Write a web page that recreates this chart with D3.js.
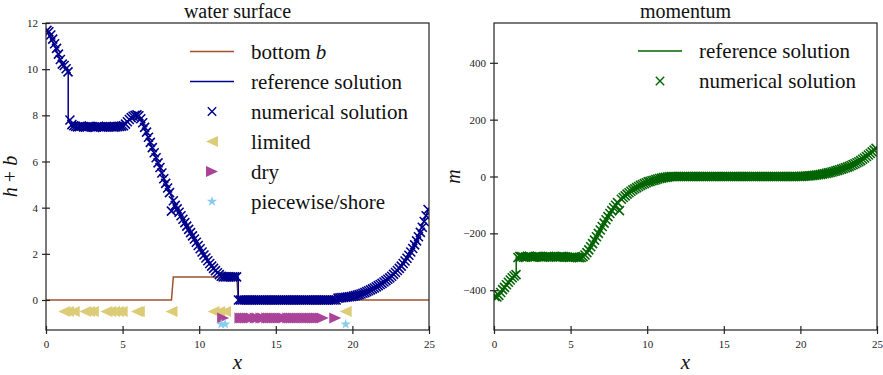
<!DOCTYPE html>
<html>
<head>
<meta charset="utf-8">
<script src="https://cdn.jsdelivr.net/npm/d3@7"></script>
<style>
  body { margin: 0; background: #fff; }
  svg { display: block; }
</style>
</head>
<body>
<svg id="fig" width="883" height="375"></svg>
<script>
// finite volume grid: 200 cells on [0, 25], values given at the cell centres
const dx = 0.125;

// numerical solution, water surface h + b
const surface = [
  11.68, 11.62, 11.48, 11.30, 11.10, 10.90, 10.65, 10.42, 10.22, 10.16,
  10.02, 9.88, 7.80, 7.60, 7.55, 7.52, 7.50, 7.51, 7.53, 7.50,
  7.49, 7.50, 7.52, 7.51, 7.50, 7.48, 7.50, 7.51, 7.50, 7.49,
  7.50, 7.52, 7.50, 7.51, 7.50, 7.49, 7.50, 7.51, 7.52, 7.53,
  7.55, 7.62, 7.72, 7.82, 7.90, 7.96, 8.00, 8.02, 7.98, 7.85,
  7.68, 7.48, 7.27, 7.05, 6.83, 6.60, 6.38, 6.16, 5.94, 5.74,
  5.50, 5.25, 5.05, 4.85, 4.65, 3.85, 4.30, 4.10, 3.95, 3.80,
  3.65, 3.50, 3.35, 3.20, 3.06, 2.92, 2.78, 2.64, 2.50, 2.36,
  2.22, 2.08, 1.95, 1.82, 1.70, 1.58, 1.47, 1.37, 1.27, 1.18,
  1.10, 1.03, 1.00, 1.00, 1.00, 1.00, 1.00, 1.00, 1.00, 1.00,
  0, 0, 0, 0, 0, 0, 0, 0, 0, 0,
  0, 0, 0, 0, 0, 0, 0, 0, 0, 0,
  0, 0, 0, 0, 0, 0, 0, 0, 0, 0,
  0, 0, 0, 0, 0, 0, 0, 0, 0, 0,
  0, 0, 0, 0, 0, 0, 0, 0, 0, 0,
  0, 0, 0.08, 0.09, 0.10, 0.11, 0.12, 0.13, 0.14, 0.15,
  0.17, 0.19, 0.21, 0.23, 0.26, 0.29, 0.32, 0.36, 0.40, 0.44,
  0.48, 0.52, 0.57, 0.62, 0.67, 0.72, 0.78, 0.84, 0.90, 0.96,
  1.03, 1.11, 1.19, 1.28, 1.37, 1.47, 1.58, 1.69, 1.81, 1.94,
  2.08, 2.23, 2.39, 2.56, 2.74, 2.93, 3.15, 3.40, 3.65, 3.92
];

// numerical solution, momentum m
const momentum = [
  -422, -424, -418, -408, -398, -390, -381, -372, -364, -356,
  -350, -345, -285, -281, -282, -284, -283, -282, -281, -283,
  -284, -282, -281, -282, -283, -284, -283, -282, -281, -282,
  -283, -282, -284, -283, -282, -281, -282, -283, -284, -285,
  -284, -283, -284, -285, -286, -285, -282, -276, -268, -258,
  -247, -236, -224, -212, -200, -188, -176, -164, -152, -141,
  -130, -120, -110, -101, -92, -120, -80, -74, -68, -62,
  -57, -52, -47, -43, -39, -35, -31, -28, -25, -22,
  -19, -17, -15, -13, -11, -9, -7, -5.5, -4, -3,
  -2, -1, 0, 0, 0, 0, 0, 0, 0, 0,
  0, 0, 0, 0, 0, 0, 0, 0, 0, 0,
  0, 0, 0, 0, 0, 0, 0, 0, 0, 0,
  0, 0, 0, 0, 0, 0, 0, 0, 0, 0,
  0, 0, 0, 0, 0, 0, 0, 0, 0, 0,
  0, 0, 0, 0, 0, 0, 0, 0, 0, 0,
  0, 0, 0, 0, 0, 0, 0, 0, 0, 0,
  0.5, 0.8, 1.2, 1.6, 2.1, 2.7, 3.4, 4.2, 5.1, 6.1,
  7.2, 8.4, 9.7, 11.1, 12.6, 14.2, 15.9, 17.7, 19.6, 21.6,
  23.7, 25.9, 28.2, 30.6, 33.1, 35.8, 38.6, 41.6, 44.8, 48.2,
  51.8, 56.0, 60.5, 65.2, 70.2, 75.5, 81.0, 86.8, 92.8, 99.0
];

// bottom topography b (bump)
const bottomX = [0, 8.19, 8.31, 12.44, 12.56, 25];
const bottomB = [0, 0, 1, 1, 0, 0];

// reference solution
const refSurfaceX = [0, 0.5, 1.0, 1.45, 1.45, 1.7, 5.0, 5.5, 5.9, 6.2, 7.0, 8.0, 9.0, 10.0, 11.0, 11.5, 12.55, 12.55, 19.0, 20.0, 21.0, 22.0, 23.0, 24.0, 25.0];
const refSurface = [11.7, 11.1, 10.3, 9.9, 7.8, 7.5, 7.52, 7.85, 8.02, 7.85, 6.45, 4.75, 3.4, 2.25, 1.3, 1.0, 1.0, 0, 0, 0.16, 0.38, 0.75, 1.35, 2.3, 4.0];
const refMomentumX = [0, 0.3, 1.45, 1.45, 5.7, 6.0, 7.0, 8.0, 9.0, 10.0, 11.0, 11.6, 20.0, 21.0, 22.0, 23.0, 24.0, 25.0];
const refMomentum = [-423, -415, -345, -284, -285, -272, -176, -92, -41, -15, -2, 0, 0, 6, 17, 37, 66, 103];

// flagged cells (x of the cell centre) and the level they are drawn at
const limitedX = [1.19, 1.44, 1.81, 2.56, 2.81, 3.06, 3.94, 4.19, 4.44, 4.69, 4.94, 5.94, 6.06, 8.19, 10.94, 11.31, 11.69, 19.56];
const dryX = [11.56, 12.69, 12.81, 12.94, 13.06, 13.19, 13.31, 13.44, 13.69, 13.81, 14.06, 14.19, 14.44, 14.56, 14.69,
  14.81, 14.94, 15.06, 15.19, 15.31, 15.44, 15.56, 15.81, 15.94, 16.06, 16.19, 16.31, 16.44, 16.56, 16.69,
  16.81, 16.94, 17.06, 17.19, 17.31, 17.44, 17.56, 17.69, 17.81, 17.94, 18.06, 18.88];
const shoreX = [11.44, 11.69, 19.56];
const limitedLevel = -0.5;
const dryLevel = -0.78;
const shoreLevel = -1.05;

// axes ranges and ticks
const xDomain = [0, 25];
const surfaceDomain = [-1.3, 12];
const momentumDomain = [-540, 540];
const xTicks = [0, 5, 10, 15, 20, 25];
const surfaceTicks = [0, 2, 4, 6, 8, 10, 12];
const momentumTicks = [-400, -200, 0, 200, 400];

// colours
const blue = "#00008b";
const green = "#006400";
const brown = "#a0522d";
const sand = "#ddcc77";
const purple = "#aa4499";
const cyan = "#88ccee";
const ink = "#222";
const serif = "'Liberation Serif', 'DejaVu Serif', 'Times New Roman', serif";

const fig = d3.select("#fig").attr("font-family", serif);
const plotTop = 23, plotBottom = 330;

// cell centre of cell i
const cellX = i => (i + 0.5) * dx;

// marker shapes
const cross = r => `M${-r},${-r}L${r},${r}M${-r},${r}L${r},${-r}`;
const triLeft = "M-6,0L6,-5.5L6,5.5Z";
const triRight = "M6,0L-6,-5.5L-6,5.5Z";
const star = d3.symbol().type(d3.symbolStar).size(34)();

function makeAxes(id, left, right, yDomain) {
    const x = d3.scaleLinear().domain(xDomain).range([left, right]);
    const y = d3.scaleLinear().domain(yDomain).range([plotBottom, plotTop]);

    fig.append("clipPath").attr("id", `${id}-clip`)
        .append("rect")
        .attr("x", left).attr("y", plotTop)
        .attr("width", right - left).attr("height", plotBottom - plotTop);

    const g = fig.append("g").attr("id", id);
    const plot = g.append("g").attr("clip-path", `url(#${id}-clip)`);
    return { x, y, g, plot, left, right };
}

function drawFrame(ax, yTicks) {
    // x axis, ticks cross the spine
    ax.g.append("g")
        .attr("transform", `translate(0,${plotBottom})`)
        .call(d3.axisBottom(ax.x).tickValues(xTicks).tickSize(4).tickPadding(6).tickFormat(d3.format("d")))
        .call(g => g.select(".domain").remove())
        .call(g => g.selectAll(".tick line").attr("y1", -4).attr("stroke", ink).attr("stroke-width", 1.2))
        .attr("font-size", 11).attr("font-family", serif)
        .call(g => g.selectAll(".tick text").attr("fill", ink));

    // y axis
    ax.g.append("g")
        .attr("transform", `translate(${ax.left},0)`)
        .call(d3.axisLeft(ax.y).tickValues(yTicks).tickSize(4).tickPadding(4).tickFormat(d3.format("d")))
        .call(g => g.select(".domain").remove())
        .call(g => g.selectAll(".tick line").attr("x1", 4).attr("stroke", ink).attr("stroke-width", 1.2))
        .attr("font-size", 11).attr("font-family", serif)
        .call(g => g.selectAll(".tick text").attr("fill", ink));

    // box around the plot
    ax.g.append("rect")
        .attr("x", ax.left).attr("y", plotTop)
        .attr("width", ax.right - ax.left).attr("height", plotBottom - plotTop)
        .attr("fill", "none").attr("stroke", ink).attr("stroke-width", 1.2);
}

function drawLine(ax, xs, ys, colour, width) {
    const line = d3.line().x(d => ax.x(d[0])).y(d => ax.y(d[1]));
    ax.plot.append("path")
        .datum(xs.map((v, i) => [v, ys[i]]))
        .attr("d", line)
        .attr("fill", "none")
        .attr("stroke", colour)
        .attr("stroke-width", width);
}

function drawCrosses(ax, values, colour) {
    ax.plot.append("g").selectAll("path")
        .data(values)
        .join("path")
        .attr("transform", (d, i) => `translate(${ax.x(cellX(i))},${ax.y(d)})`)
        .attr("d", cross(4.5))
        .attr("fill", "none")
        .attr("stroke", colour)
        .attr("stroke-width", 1.6);
}

function drawFlags(ax, xs, level, shape, colour) {
    ax.plot.append("g").selectAll("path")
        .data(xs)
        .join("path")
        .attr("transform", d => `translate(${ax.x(d)},${ax.y(level)})`)
        .attr("d", shape)
        .attr("fill", colour);
}

function drawLegend(x0, y0, rows) {
    const step = 30;
    const items = fig.append("g").selectAll("g")
        .data(rows)
        .join("g")
        .attr("transform", (d, i) => `translate(${x0},${y0 + i * step})`);

    items.each(function (d) {
        const item = d3.select(this);
        if (d.kind === "line") {
            item.append("line").attr("x1", -22).attr("x2", 22)
                .attr("stroke", d.colour).attr("stroke-width", 1.5);
        } else if (d.kind === "cross") {
            item.append("path").attr("d", cross(4.2))
                .attr("stroke", d.colour).attr("stroke-width", 1.4).attr("fill", "none");
        } else {
            item.append("path").attr("d", d.shape).attr("fill", d.colour);
        }
        const text = item.append("text")
            .attr("x", 39).attr("y", 7)
            .attr("font-family", serif)
            .attr("font-size", 21)
            .attr("fill", "#111");
        text.append("tspan").text(d.label);
        if (d.mathLabel) text.append("tspan").attr("font-style", "italic").text(d.mathLabel);
    });
}

// ---------- left panel: water surface ----------
const axH = makeAxes("surface", 46, 429, surfaceDomain);
drawLine(axH, bottomX, bottomB, brown, 1.5);
drawLine(axH, refSurfaceX, refSurface, blue, 1.5);
drawCrosses(axH, surface, blue);
drawFlags(axH, limitedX, limitedLevel, triLeft, sand);
drawFlags(axH, dryX, dryLevel, triRight, purple);
drawFlags(axH, shoreX, shoreLevel, star, cyan);
drawFrame(axH, surfaceTicks);

// ---------- right panel: momentum ----------
const axM = makeAxes("momentum", 494, 877, momentumDomain);
drawLine(axM, refMomentumX, refMomentum, green, 1.5);
drawCrosses(axM, momentum, green);
drawFrame(axM, momentumTicks);

// titles
fig.append("text").attr("x", 237.5).attr("y", 18).attr("text-anchor", "middle")
    .attr("font-family", serif).attr("font-size", 20).attr("fill", "#111").text("water surface");
fig.append("text").attr("x", 685.5).attr("y", 18).attr("text-anchor", "middle")
    .attr("font-family", serif).attr("font-size", 20).attr("fill", "#111").text("momentum");

// axis labels
fig.append("text").attr("x", 237.5).attr("y", 369).attr("text-anchor", "middle")
    .attr("font-family", serif).attr("font-size", 21).attr("font-style", "italic").attr("fill", "#111").text("x");
fig.append("text").attr("x", 685.5).attr("y", 369).attr("text-anchor", "middle")
    .attr("font-family", serif).attr("font-size", 21).attr("font-style", "italic").attr("fill", "#111").text("x");

const hb = fig.append("text")
    .attr("transform", `translate(17,${(plotTop + plotBottom) / 2}) rotate(-90)`)
    .attr("text-anchor", "middle").attr("font-family", serif).attr("font-size", 20).attr("fill", "#111");
hb.append("tspan").attr("font-style", "italic").text("h");
hb.append("tspan").text(" + ");
hb.append("tspan").attr("font-style", "italic").text("b");

fig.append("text")
    .attr("transform", `translate(460,${(plotTop + plotBottom) / 2}) rotate(-90)`)
    .attr("text-anchor", "middle").attr("font-family", serif).attr("font-size", 20).attr("font-style", "italic")
    .attr("fill", "#111").text("m");

// legends
drawLegend(212, 51.5, [
    { kind: "line", colour: brown, label: "bottom ", mathLabel: "b" },
    { kind: "line", colour: blue, label: "reference solution" },
    { kind: "cross", colour: blue, label: "numerical solution" },
    { kind: "shape", shape: triLeft, colour: sand, label: "limited" },
    { kind: "shape", shape: triRight, colour: purple, label: "dry" },
    { kind: "shape", shape: star, colour: cyan, label: "piecewise/shore" }
]);
drawLegend(660, 51, [
    { kind: "line", colour: green, label: "reference solution" },
    { kind: "cross", colour: green, label: "numerical solution" }
]);
</script>
</body>
</html>
